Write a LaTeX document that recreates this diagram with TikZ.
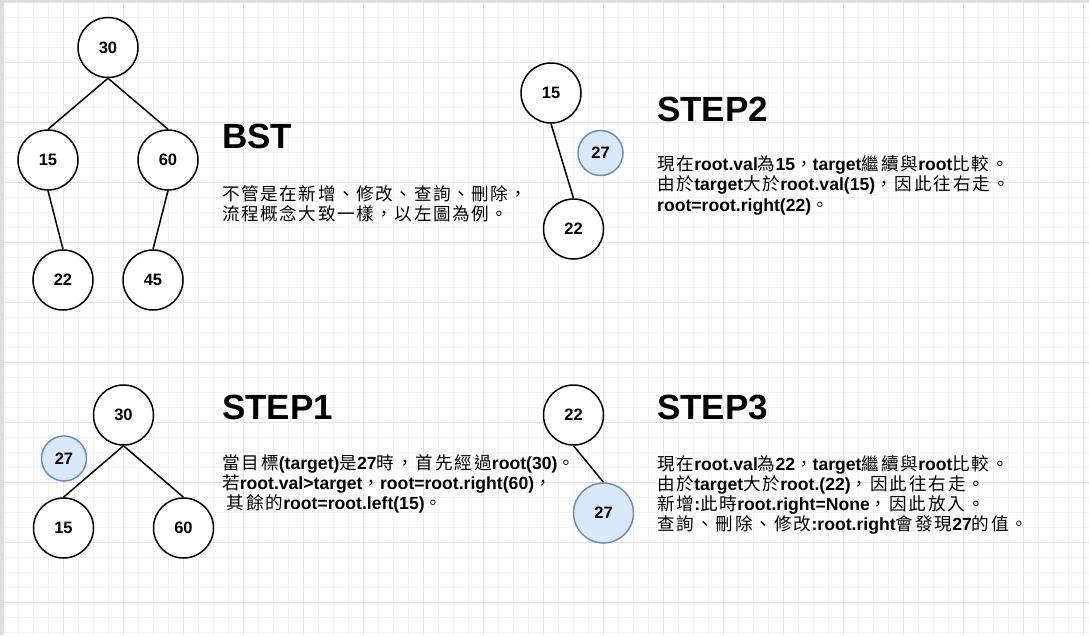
\documentclass[tikz,border=0pt]{standalone}
\usepackage{fontspec}
\setmainfont{Liberation Sans}
\newfontfamily\cjk{Noto Sans CJK TC}[LetterSpace=11]
\newfontfamily\cjkplain{Noto Sans CJK TC}[LetterSpace=9]
\definecolor{gridmajor}{HTML}{E3E3E3}
\definecolor{gridminor}{HTML}{F3F3F3}
\definecolor{gridborder}{HTML}{DDDDDD}
\definecolor{hlfill}{HTML}{DAE8FC}
\definecolor{hldraw}{HTML}{6C8EBF}
\newcommand\Cj[1]{{\cjk\mdseries #1}}
\newcommand\numfont{\fontsize{16.5}{18}\selectfont\bfseries}
\newcommand\titlefont{\fontsize{35}{40}\selectfont\bfseries}
\newcommand\bodyfont{\fontsize{17.6}{20}\selectfont\bfseries}
\newcommand\plainfont{\fontsize{17.6}{20}\selectfont\cjkplain}
\begin{document}
\begin{tikzpicture}[x=1pt,y=-1pt,
  tnode/.style={circle,draw=black,fill=white,line width=1.5pt,minimum size=60pt,inner sep=0pt,font=\numfont},
  hlsmall/.style={circle,draw=hldraw,fill=hlfill,line width=1.5pt,minimum size=45pt,inner sep=0pt,font=\numfont},
  hlbig/.style={hlsmall,minimum size=60pt},
  edge/.style={line width=1.5pt,draw=black},
  title/.style={anchor=base west,inner sep=0pt,font=\titlefont},
  body/.style={anchor=base west,inner sep=0pt,font=\bodyfont},
  plain/.style={anchor=base west,inner sep=0pt,font=\plainfont}]
\useasboundingbox (0,0) rectangle (1089,635);
\fill[white] (0,0) rectangle (1089,635);
% grid
\foreach \i in {0,...,72} \draw[gridminor,line width=1pt] ({3+15*\i},0) -- ({3+15*\i},635);
\foreach \j in {0,...,42} \draw[gridminor,line width=1pt] (0,{2+15*\j}) -- (1089,{2+15*\j});
\foreach \i in {0,...,18} \draw[gridmajor,line width=1pt] ({3+60*\i},0) -- ({3+60*\i},635);
\foreach \j in {0,...,10} \draw[gridmajor,line width=1pt] (0,{2+60*\j}) -- (1089,{2+60*\j});
\fill[gridborder] (0,0) rectangle (2.5,635);
\fill[gridborder] (0,0) rectangle (1089,2);

% BST tree
\node[tnode] (a30) at (108,47.5) {30};
\node[tnode] (a15) at (48,160) {15};
\node[tnode] (a60) at (168,160) {60};
\node[tnode] (a22) at (63,280) {22};
\node[tnode] (a45) at (153,280) {45};
\draw[edge] (a30.south) -- (a15.north);
\draw[edge] (a30.south) -- (a60.north);
\draw[edge] (a15.south) -- (a22.north);
\draw[edge] (a60.south) -- (a45.north);

% STEP2 tree
\node[tnode] (b15) at (551,93) {15};
\node[hlsmall] (b27) at (600.5,153) {27};
\node[tnode] (b22) at (573.5,229) {22};
\draw[edge] (b15.south) -- (b22.north);

% STEP1 tree
\node[tnode] (c30) at (123.5,415) {30};
\node[hlsmall] (c27) at (64,458.5) {27};
\node[tnode] (c15) at (63.5,528) {15};
\node[tnode] (c60) at (183.5,528) {60};
\draw[edge] (c30.south) -- (c15.north);
\draw[edge] (c30.south) -- (c60.north);

% STEP3 tree
\node[tnode] (d22) at (573.5,415) {22};
\node[hlbig] (d27) at (603.5,513) {27};
\draw[edge] (d22.south) -- (d27.north);

% titles
\node[title] (tBST) at (222,148) {BST};
\node[title] (tS2) at (657,121) {STEP2};
\node[title] (tS1) at (222,419) {STEP1};
\node[title] (tS3) at (657,419) {STEP3};

% BST text
\node[plain] (p1) at (222,200) {不管是在新增、修改、查詢、刪除，};
\node[plain] (p2) at (222,220) {流程概念大致一樣，以左圖為例。};

% STEP2 text
\node[body] (q1) at (657,170) {\Cj{現在}root.val\Cj{為}15\Cj{，}target\Cj{繼續與}root\Cj{比較。}};
\node[body] (q2) at (657,190.5) {\Cj{由於}target\Cj{大於}root.val(15)\Cj{，因此往右走。}};
\node[body] (q3) at (657,211) {root=root.right(22)\Cj{。}};

% STEP1 text
\node[body] (r1) at (222,469.5) {\Cj{當目標}(target)\Cj{是}27\Cj{時，首先經過}root(30)\Cj{。}};
\node[body] (r2) at (222,489.5) {\Cj{若}root.val>target\Cj{，}root=root.right(60)\Cj{，}};
\node[body] (r3) at (226.5,509.5) {\Cj{其餘的}root=root.left(15)\Cj{。}};

% STEP3 text
\node[body] (s1) at (657,470) {\Cj{現在}root.val\Cj{為}22\Cj{，}target\Cj{繼續與}root\Cj{比較。}};
\node[body] (s2) at (657,490) {\Cj{由於}target\Cj{大於}root.(22)\Cj{，因此往右走。}};
\node[body] (s3) at (657,510) {\Cj{新增}:\Cj{此時}root.right=None\Cj{，因此放入。}};
\node[body] (s4) at (657,530) {\Cj{查詢、刪除、修改}:root.right\Cj{會發現}27\Cj{的值。}};
\end{tikzpicture}
\end{document}
